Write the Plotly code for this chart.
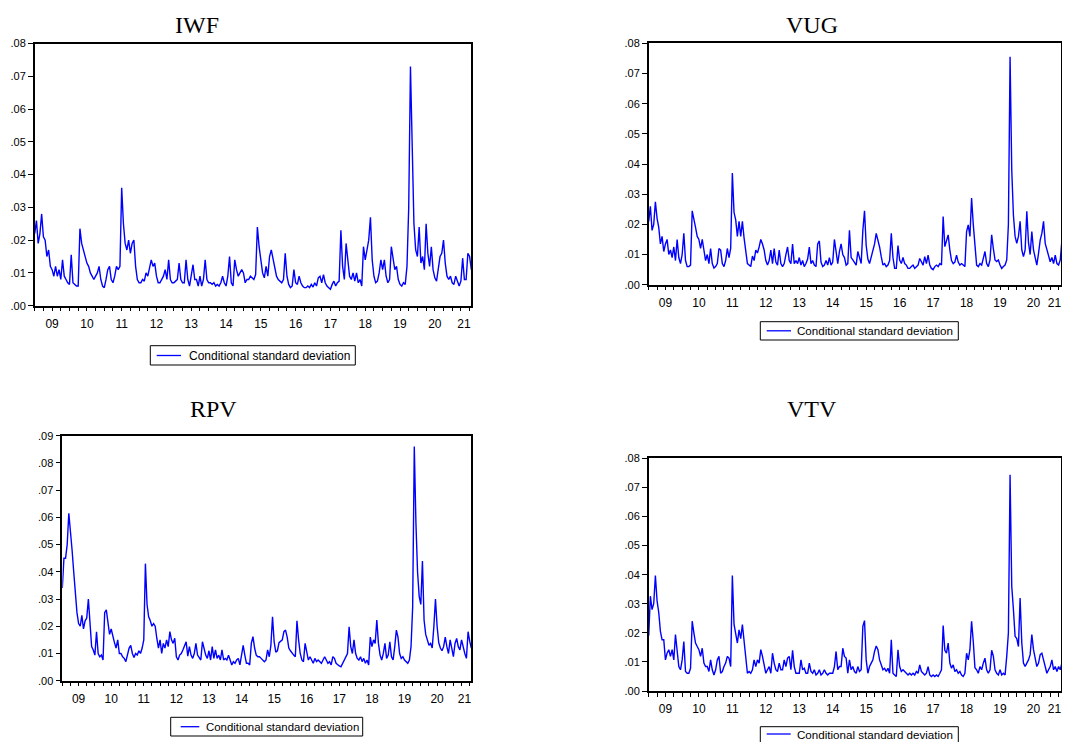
import numpy as np
import plotly.graph_objects as go

# ---------------- data (conditional standard deviation, 20 obs per year from 2009) ----------------
START_YEAR = 2009.0
PER_YEAR = 20

iwf = [
    0.022, 0.026, 0.019, 0.022, 0.028, 0.021, 0.020, 0.015, 0.017, 0.012, 0.011, 0.009, 0.012, 0.009, 0.011, 0.008, 0.014, 0.009, 0.008, 0.007,
    0.0065, 0.0155, 0.007, 0.0065, 0.006, 0.006, 0.0235, 0.019, 0.017, 0.015, 0.013, 0.012, 0.010, 0.009, 0.008, 0.009, 0.010, 0.012, 0.008, 0.006,
    0.0055, 0.008, 0.011, 0.012, 0.008, 0.007, 0.009, 0.012, 0.011, 0.012, 0.036, 0.025, 0.019, 0.017, 0.020, 0.016, 0.019, 0.020, 0.012, 0.008,
    0.007, 0.007, 0.008, 0.0075, 0.010, 0.009, 0.012, 0.014, 0.012, 0.013, 0.009, 0.007, 0.007, 0.008, 0.009, 0.011, 0.008, 0.014, 0.008, 0.007,
    0.007, 0.0075, 0.008, 0.013, 0.008, 0.007, 0.007, 0.014, 0.008, 0.006, 0.009, 0.0125, 0.008, 0.008, 0.006, 0.009, 0.006, 0.008, 0.014, 0.008,
    0.007, 0.007, 0.0065, 0.007, 0.006, 0.0065, 0.006, 0.007, 0.009, 0.007, 0.006, 0.009, 0.015, 0.007, 0.006, 0.014, 0.011, 0.009, 0.010, 0.011,
    0.010, 0.007, 0.008, 0.008, 0.009, 0.0085, 0.008, 0.0095, 0.024, 0.018, 0.014, 0.010, 0.0085, 0.012, 0.009, 0.015, 0.017, 0.014, 0.011, 0.009,
    0.008, 0.0075, 0.007, 0.008, 0.016, 0.009, 0.0065, 0.0055, 0.006, 0.011, 0.007, 0.0065, 0.009, 0.007, 0.006, 0.0055, 0.0055, 0.006, 0.0055, 0.0065,
    0.0057, 0.007, 0.006, 0.0085, 0.009, 0.007, 0.0095, 0.007, 0.006, 0.0055, 0.005, 0.0065, 0.0075, 0.006, 0.007, 0.0075, 0.023, 0.012, 0.008, 0.019,
    0.013, 0.009, 0.008, 0.010, 0.0075, 0.010, 0.007, 0.008, 0.006, 0.018, 0.014, 0.017, 0.020, 0.027, 0.014, 0.009, 0.007, 0.0075, 0.010, 0.014,
    0.011, 0.014, 0.009, 0.007, 0.008, 0.018, 0.014, 0.011, 0.012, 0.008, 0.0065, 0.006, 0.007, 0.0065, 0.012, 0.030, 0.073, 0.045, 0.025, 0.017,
    0.015, 0.024, 0.013, 0.015, 0.011, 0.025, 0.016, 0.012, 0.018, 0.011, 0.0085, 0.0075, 0.012, 0.015, 0.016, 0.020, 0.013, 0.009, 0.008, 0.009,
    0.007, 0.0065, 0.009, 0.0075, 0.006, 0.0075, 0.0145, 0.008, 0.008, 0.016, 0.015, 0.011,
]

vug = [
    0.021, 0.026, 0.018, 0.020, 0.0275, 0.022, 0.019, 0.0135, 0.016, 0.011, 0.0135, 0.015, 0.010, 0.0115, 0.009, 0.0125, 0.008, 0.015, 0.009, 0.007,
    0.010, 0.017, 0.008, 0.006, 0.006, 0.0065, 0.0245, 0.021, 0.019, 0.016, 0.015, 0.012, 0.015, 0.0115, 0.008, 0.010, 0.007, 0.012, 0.007, 0.0055,
    0.006, 0.007, 0.012, 0.0115, 0.007, 0.006, 0.008, 0.012, 0.009, 0.012, 0.037, 0.024, 0.0215, 0.016, 0.021, 0.016, 0.021, 0.0155, 0.0115, 0.007,
    0.0065, 0.006, 0.0095, 0.008, 0.0115, 0.0105, 0.0125, 0.015, 0.0135, 0.0115, 0.008, 0.0065, 0.008, 0.0115, 0.007, 0.012, 0.0075, 0.0065, 0.0115, 0.007,
    0.006, 0.007, 0.010, 0.0125, 0.008, 0.007, 0.0135, 0.007, 0.008, 0.007, 0.009, 0.0065, 0.008, 0.006, 0.007, 0.0085, 0.0125, 0.007, 0.008, 0.0065,
    0.006, 0.0135, 0.0145, 0.0075, 0.006, 0.0065, 0.008, 0.0065, 0.009, 0.0065, 0.0075, 0.015, 0.011, 0.007, 0.011, 0.0135, 0.010, 0.009, 0.0065, 0.007,
    0.018, 0.009, 0.0082, 0.0071, 0.0065, 0.011, 0.0085, 0.007, 0.018, 0.0245, 0.013, 0.0085, 0.007, 0.0093, 0.0115, 0.0135, 0.017, 0.015, 0.0125, 0.0093,
    0.0065, 0.007, 0.006, 0.0065, 0.008, 0.017, 0.009, 0.0054, 0.0054, 0.013, 0.0082, 0.007, 0.009, 0.007, 0.0065, 0.0054, 0.0054, 0.006, 0.0065, 0.0054,
    0.006, 0.0065, 0.0087, 0.0077, 0.0065, 0.0093, 0.007, 0.0098, 0.0065, 0.0054, 0.005, 0.006, 0.0065, 0.006, 0.007, 0.0065, 0.0226, 0.0126, 0.0148, 0.0165,
    0.0115, 0.008, 0.007, 0.0075, 0.0098, 0.0075, 0.0065, 0.007, 0.0065, 0.006, 0.0176, 0.0198, 0.016, 0.0287, 0.020, 0.0137, 0.0065, 0.006, 0.007, 0.0065,
    0.0087, 0.011, 0.007, 0.006, 0.0082, 0.0165, 0.012, 0.0082, 0.0077, 0.0082, 0.0065, 0.0054, 0.006, 0.0065, 0.0082, 0.020, 0.0755, 0.038, 0.023, 0.016,
    0.0137, 0.016, 0.021, 0.0115, 0.0093, 0.0115, 0.0243, 0.014, 0.010, 0.0176, 0.0115, 0.009, 0.0065, 0.0104, 0.0148, 0.017, 0.021, 0.0137, 0.0115, 0.0093,
    0.0076, 0.009, 0.007, 0.0098, 0.007, 0.0065, 0.0082, 0.0148, 0.010, 0.0071, 0.009, 0.017,
]

rpv = [
    0.034, 0.045, 0.045, 0.050, 0.0615, 0.053, 0.048, 0.040, 0.031, 0.025, 0.021, 0.020, 0.024, 0.019, 0.022, 0.023, 0.030, 0.019, 0.0125, 0.0113,
    0.0094, 0.018, 0.010, 0.0088, 0.0094, 0.0076, 0.025, 0.026, 0.021, 0.017, 0.019, 0.016, 0.014, 0.012, 0.015, 0.010, 0.010, 0.0088, 0.0082, 0.007,
    0.010, 0.012, 0.013, 0.010, 0.0085, 0.010, 0.0094, 0.011, 0.010, 0.012, 0.015, 0.043, 0.028, 0.0235, 0.022, 0.020, 0.021, 0.020, 0.0156, 0.012,
    0.015, 0.010, 0.0137, 0.012, 0.015, 0.0125, 0.018, 0.015, 0.0137, 0.0156, 0.0088, 0.0076, 0.0094, 0.010, 0.0113, 0.0125, 0.0143, 0.009, 0.0125, 0.0094,
    0.0082, 0.010, 0.0137, 0.0094, 0.0082, 0.0076, 0.0143, 0.0113, 0.0094, 0.0082, 0.011, 0.0076, 0.0125, 0.0082, 0.0113, 0.0082, 0.0094, 0.0076, 0.0113, 0.0076,
    0.0082, 0.0076, 0.0094, 0.0076, 0.0058, 0.007, 0.0064, 0.0076, 0.0082, 0.0058, 0.0094, 0.013, 0.0094, 0.0064, 0.0064, 0.0058, 0.0137, 0.0162, 0.012, 0.0094,
    0.0088, 0.0088, 0.0082, 0.0076, 0.007, 0.0076, 0.0113, 0.0088, 0.013, 0.0235, 0.0143, 0.0105, 0.011, 0.014, 0.0145, 0.015, 0.018, 0.0186, 0.016, 0.012,
    0.011, 0.010, 0.0094, 0.0088, 0.022, 0.015, 0.010, 0.0076, 0.007, 0.0137, 0.010, 0.0076, 0.0088, 0.0076, 0.0064, 0.0082, 0.007, 0.0076, 0.007, 0.0064,
    0.0076, 0.0088, 0.0076, 0.0064, 0.007, 0.0058, 0.0088, 0.0082, 0.0064, 0.0058, 0.0054, 0.0051, 0.0064, 0.0076, 0.0088, 0.010, 0.0198, 0.0125, 0.010, 0.015,
    0.010, 0.0082, 0.0076, 0.0088, 0.007, 0.0082, 0.0064, 0.0076, 0.0058, 0.016, 0.0125, 0.015, 0.0137, 0.0223, 0.0137, 0.0094, 0.0076, 0.010, 0.0137, 0.0082,
    0.0094, 0.0143, 0.0088, 0.0076, 0.0125, 0.0186, 0.016, 0.010, 0.0082, 0.0088, 0.0076, 0.007, 0.0064, 0.0076, 0.0125, 0.027, 0.086, 0.058, 0.040, 0.031,
    0.028, 0.044, 0.0223, 0.017, 0.015, 0.013, 0.0137, 0.012, 0.0198, 0.030, 0.020, 0.014, 0.012, 0.011, 0.0125, 0.016, 0.0125, 0.010, 0.015, 0.011,
    0.0088, 0.0137, 0.0155, 0.0125, 0.0113, 0.015, 0.012, 0.010, 0.0082, 0.018, 0.0145, 0.012,
]

vtv = [
    0.019, 0.0326, 0.028, 0.030, 0.0397, 0.031, 0.027, 0.0205, 0.0176, 0.0176, 0.0107, 0.013, 0.0142, 0.0119, 0.0142, 0.0107, 0.0194, 0.013, 0.0084, 0.0073,
    0.0107, 0.017, 0.0067, 0.0061, 0.0061, 0.0078, 0.024, 0.020, 0.0165, 0.0153, 0.0142, 0.0119, 0.0147, 0.0096, 0.0084, 0.0084, 0.0067, 0.0107, 0.0073, 0.0055,
    0.0073, 0.0107, 0.0119, 0.0061, 0.0067, 0.0084, 0.0096, 0.0119, 0.0113, 0.0084, 0.0397, 0.023, 0.020, 0.0165, 0.021, 0.018, 0.0228, 0.0165, 0.0113, 0.0061,
    0.0067, 0.0061, 0.0073, 0.0107, 0.0084, 0.0107, 0.0096, 0.0142, 0.0119, 0.0084, 0.0061, 0.0073, 0.0084, 0.0061, 0.013, 0.0096, 0.0073, 0.0067, 0.0096, 0.0073,
    0.0073, 0.0107, 0.0084, 0.0113, 0.0119, 0.0073, 0.0140, 0.0084, 0.0061, 0.0061, 0.0061, 0.0107, 0.0073, 0.0078, 0.0061, 0.0061, 0.0096, 0.0067, 0.0061, 0.0073,
    0.0055, 0.0061, 0.0073, 0.0055, 0.0061, 0.0073, 0.0061, 0.0055, 0.0061, 0.0061, 0.0061, 0.0084, 0.0136, 0.0073, 0.0084, 0.0084, 0.0147, 0.0119, 0.0113, 0.0061,
    0.0107, 0.0073, 0.0084, 0.0067, 0.0061, 0.0084, 0.0067, 0.0073, 0.0222, 0.0242, 0.0107, 0.0061, 0.0084, 0.0096, 0.0107, 0.0136, 0.0155, 0.0142, 0.0107, 0.0090,
    0.0073, 0.0078, 0.0067, 0.0078, 0.0061, 0.0176, 0.0061, 0.0055, 0.005, 0.0142, 0.0084, 0.0067, 0.0073, 0.0067, 0.0061, 0.0055, 0.0061, 0.0055, 0.0061, 0.0055,
    0.0067, 0.0061, 0.009, 0.0067, 0.0061, 0.0055, 0.0061, 0.0084, 0.0055, 0.005, 0.0055, 0.005, 0.0055, 0.005, 0.0061, 0.0073, 0.0225, 0.0140, 0.013, 0.0165,
    0.0096, 0.0078, 0.0090, 0.0067, 0.0073, 0.0061, 0.0067, 0.0055, 0.005, 0.0061, 0.013, 0.0107, 0.0142, 0.024, 0.017, 0.008, 0.0073, 0.0061, 0.0084, 0.0073,
    0.0096, 0.0113, 0.0073, 0.0061, 0.0073, 0.0140, 0.012, 0.0073, 0.0061, 0.0055, 0.0073, 0.0055, 0.0061, 0.0055, 0.0119, 0.020, 0.0743, 0.036, 0.028, 0.0188,
    0.018, 0.0153, 0.032, 0.0165, 0.0096, 0.0084, 0.0096, 0.0107, 0.0125, 0.0194, 0.0142, 0.0107, 0.0084, 0.0096, 0.0125, 0.013, 0.0107, 0.0084, 0.0061, 0.0073,
    0.0084, 0.0107, 0.0073, 0.0084, 0.0067, 0.0084, 0.0073, 0.0096, 0.0107, 0.0073, 0.0055, 0.0142,
]

panel_names = ["IWF", "VUG", "RPV", "VTV"]
panel_values = [iwf, vug, rpv, vtv]
y_tops = [0.08, 0.08, 0.09, 0.08]
x_ends = [2021.54, 2021.57, 2021.54, 2021.57]
year_labels = ["09", "10", "11", "12", "13", "14", "15", "16", "17", "18", "19", "20", "21"]
legend_text = "Conditional standard deviation"

# ---------------- layout geometry (page pixels of the 1070 x 742 window) ----------------
WIN_W, WIN_H = 1070, 742
PAGE_OFFSET = 8                      # the page places the figure 8 px from its top-left corner
W = WIN_W - PAGE_OFFSET
H = WIN_H - PAGE_OFFSET
VISIBLE_RIGHT = WIN_W - PAGE_OFFSET - 0.8   # right-most page column that is shown
# (left, right, top, bottom) of each plot frame, in window pixels
frames = [
    (34.7, 471.0, 43.5, 305.7),
    (648.7, 1069.3, 43.3, 284.7),
    (62.3, 471.0, 435.7, 680.7),
    (648.7, 1069.3, 458.3, 691.0),
]
title_pos = [(197, 25), (812, 25), (213, 408.5), (812, 408.5)]
# legend box (left, top, right, bottom), sample line (x0, x1), text x, centre y, font size
legend_boxes = [
    (150.3, 345.7, 355.3, 365.0, 156.7, 181.0, 186.7, 355.5, 12),
    (760.3, 321.7, 958.3, 340.0, 766.7, 791.0, 795.0, 330.8, 11.6),
    (170.7, 717.3, 362.7, 736.0, 180.7, 199.3, 204.3, 726.7, 11.4),
    (760.3, 726.7, 958.3, 745.0, 766.7, 790.7, 795.0, 734.0, 11.6),
]

FONT = "Liberation Sans, Arial, sans-serif"
SERIF = "Liberation Serif, Times New Roman, serif"
BLUE = "#0000FF"


def px(x):
    return (x - PAGE_OFFSET) / W


def py(y):
    return 1 - (y - PAGE_OFFSET) / H


fig = go.Figure()
layout = dict(
    template="none",
    width=W, height=H, autosize=False,
    margin=dict(l=0, r=0, t=0, b=0, pad=0),
    paper_bgcolor="white", plot_bgcolor="white",
    font=dict(family=FONT, size=11, color="black"),
    showlegend=False,
    annotations=[], shapes=[],
)

for i, (name, vals) in enumerate(zip(panel_names, panel_values)):
    n = i + 1
    sfx = "" if n == 1 else str(n)
    lab_n = n + 4
    left, right, top, bottom = frames[i]
    x_end = x_ends[i]
    # keep the year scale, but stop the frame where the window still shows it
    if right > VISIBLE_RIGHT:
        x_end = START_YEAR + (VISIBLE_RIGHT - left) * (x_end - START_YEAR) / (right - left)
        right = VISIBLE_RIGHT
    xs = START_YEAR + np.arange(len(vals)) / PER_YEAR

    fig.add_trace(go.Scatter(
        x=xs, y=vals, mode="lines", name=legend_text,
        line=dict(color=BLUE, width=1.4),
        xaxis=f"x{sfx}", yaxis=f"y{sfx}", hoverinfo="skip",
    ))
    # empty helper trace so the year-label axis is created
    fig.add_trace(go.Scatter(
        x=[], y=[], mode="lines", xaxis=f"x{lab_n}", yaxis=f"y{sfx}",
        showlegend=False, hoverinfo="skip",
    ))

    quarter_ticks = list(np.arange(START_YEAR, x_end + 1e-9, 0.25))
    first_year = int(START_YEAR)
    label_vals = [min(first_year + k + 0.5, x_end - 0.2) for k in range(len(year_labels))]

    dom_x = [px(left), min(px(right), 1.0)]
    dom_y = [py(bottom), py(top)]
    top_val = y_tops[i]
    nticks = int(round(top_val / 0.01))
    yvals = [round(k * 0.01, 2) for k in range(nticks + 1)]
    ytext = [f"{v:.2f}"[1:] for v in yvals]

    layout[f"xaxis{sfx}"] = dict(
        domain=dom_x, anchor=f"y{sfx}", range=[START_YEAR, x_end], automargin=False,
        showgrid=False, zeroline=False,
        showline=True, linecolor="black", linewidth=1.5, mirror=True,
        tickmode="array", tickvals=quarter_ticks, showticklabels=False,
        ticks="outside", ticklen=4, tickwidth=1, tickcolor="black",
    )
    layout[f"xaxis{lab_n}"] = dict(
        overlaying=f"x{sfx}", anchor=f"y{sfx}", side="bottom",
        range=[START_YEAR, x_end], automargin=False,
        showgrid=False, zeroline=False, showline=False,
        tickmode="array", tickvals=label_vals, ticktext=year_labels,
        ticks="outside", ticklen=7, tickcolor="rgba(0,0,0,0)",
        tickfont=dict(family=FONT, size=12, color="black"),
    )
    layout[f"yaxis{sfx}"] = dict(
        domain=dom_y, anchor=f"x{sfx}", range=[0, top_val], automargin=False,
        showgrid=False, zeroline=False,
        showline=True, linecolor="black", linewidth=1.5, mirror=True,
        tickmode="array", tickvals=yvals, ticktext=ytext,
        ticks="outside", ticklen=5, tickwidth=1, tickcolor="black",
        tickfont=dict(family=FONT, size=11, color="black"),
    )

    tx, ty = title_pos[i]
    layout["annotations"].append(dict(
        text=name, xref="paper", yref="paper", x=px(tx), y=py(ty),
        xanchor="center", yanchor="middle", showarrow=False,
        font=dict(family=SERIF, size=24, color="black"),
    ))

    # legend box for the panel
    bl, bt, br, bb, l0, l1, tx0, cy, fs = legend_boxes[i]
    layout["shapes"].append(dict(
        type="rect", xref="paper", yref="paper",
        x0=px(bl), x1=px(br), y0=py(bb), y1=py(bt),
        line=dict(color="black", width=1), fillcolor="white", layer="above",
    ))
    layout["shapes"].append(dict(
        type="line", xref="paper", yref="paper",
        x0=px(l0), x1=px(l1), y0=py(cy), y1=py(cy),
        line=dict(color=BLUE, width=1.3), layer="above",
    ))
    layout["annotations"].append(dict(
        text=legend_text, xref="paper", yref="paper", x=px(tx0), y=py(cy),
        xanchor="left", yanchor="middle", showarrow=False,
        font=dict(family=FONT, size=fs, color="black"),
    ))

fig.update_layout(**layout)
fig.write_html("out.html")
